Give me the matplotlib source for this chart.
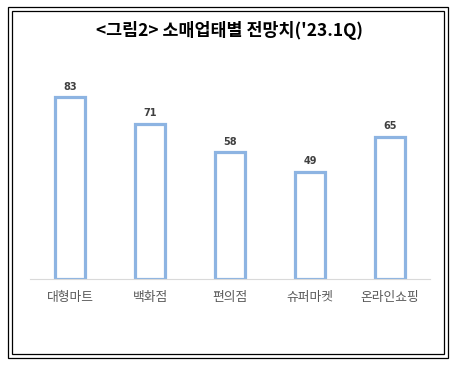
import matplotlib
matplotlib.use("Agg")
import matplotlib.pyplot as plt
from matplotlib.patches import Rectangle

plt.rcParams['font.family'] = ['Noto Sans CJK KR', 'DejaVu Sans']

title = "<그림2> 소매업태별 전망치('23.1Q)"
categories = ["대형마트", "백화점", "편의점", "슈퍼마켓", "온라인쇼핑"]
values = [83, 71, 58, 49, 65]

W, H = 458, 368
fig = plt.figure(figsize=(W / 100, H / 100), dpi=100)
fig.patch.set_facecolor("white")

# double frame
for (x0, y0, x1, y1, lw) in [(7.5, 6.5, 447.5, 357.5, 0.9), (11.5, 10.5, 443.5, 353.5, 0.9)]:
    fig.add_artist(Rectangle((x0 / W, 1 - y1 / H), (x1 - x0) / W, (y1 - y0) / H,
                             transform=fig.transFigure, fill=False,
                             edgecolor="black", linewidth=lw))

ax = fig.add_axes([30 / W, (H - 279) / H, 400 / W, (279 - 60) / H])
x = list(range(len(categories)))
bars = ax.bar(x, values, width=0.38, facecolor="white", edgecolor="#8DB4E2", linewidth=2.3)
for xi, v in zip(x, values):
    ax.text(xi, v + 2.5, str(v), ha="center", va="bottom", fontsize=7, fontweight="bold",
            color="#404040", family="DejaVu Sans")
ax.set_xlim(-0.5, len(categories) - 0.5)
ax.set_ylim(0, 100)
ax.set_xticks(x)
ax.set_xticklabels(categories, fontsize=9.2, color="#595959")
ax.tick_params(axis="x", length=0, pad=8.5)
ax.set_yticks([])
for s in ["top", "right", "left"]:
    ax.spines[s].set_visible(False)
ax.spines["bottom"].set_color("#D9D9D9")
ax.spines["bottom"].set_linewidth(0.8)
ax.set_facecolor("none")

fig.text(229 / W, 1 - 31 / H, title, ha="center", va="center", fontsize=12.5,
         fontweight="bold", color="black")

fig.savefig("out.png", dpi=100)
